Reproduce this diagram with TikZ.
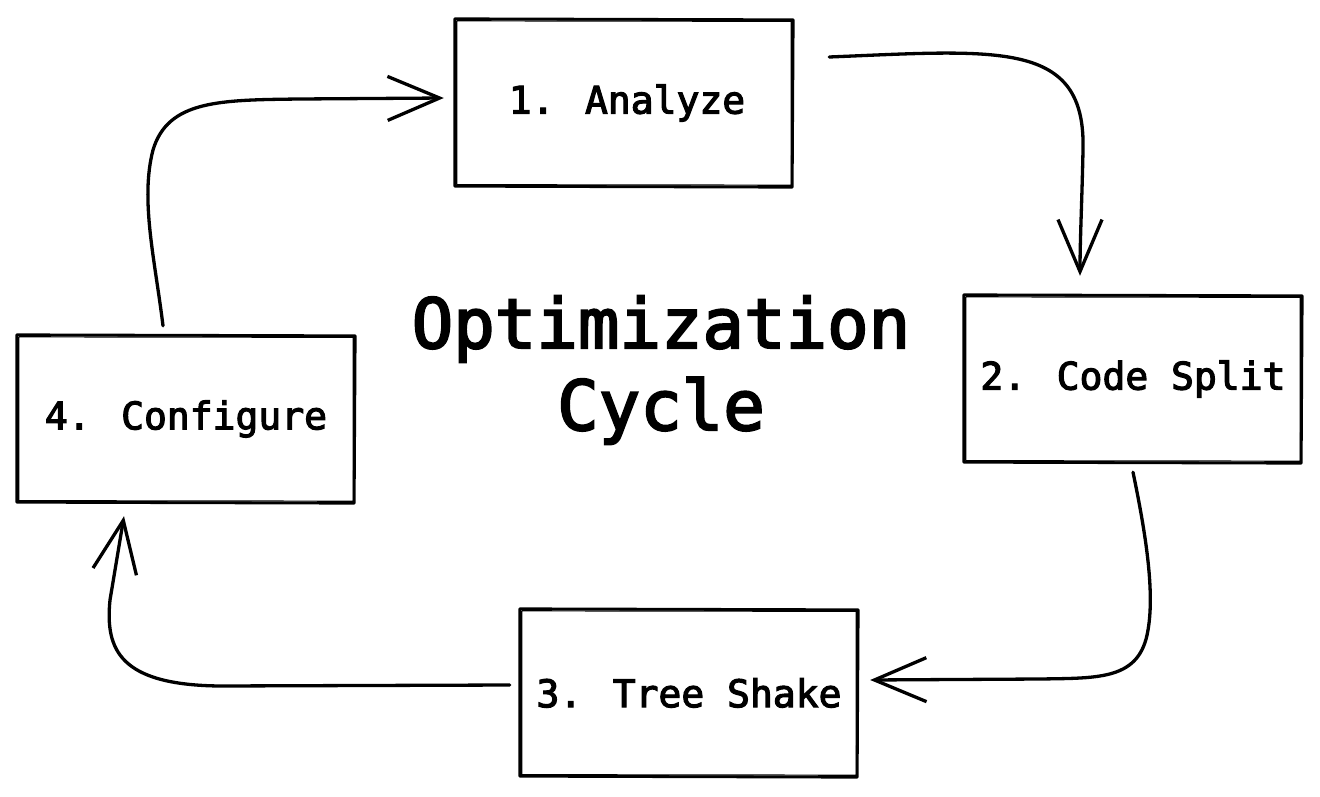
\documentclass[tikz,border=0pt]{standalone}
\usepackage{fontspec}
\newfontfamily\codefont[FakeBold=3]{DejaVu Sans Mono}
\usetikzlibrary{calc,arrows.meta}
\newcommand\roughbox[1]{%
  \draw[roughA] ($(#1.north west)+(-1,-1)$) -- ($(#1.north east)+(1,0)$) -- ($(#1.south east)+(0,1)$) -- ($(#1.south west)+(-1,0)$) -- cycle;
  \draw[roughB] ($(#1.north west)+(1,1)$) -- ($(#1.north east)+(-1,1.5)$) -- ($(#1.south east)+(-1,-1)$) -- ($(#1.south west)+(1,-1.5)$) -- cycle;
}
\begin{document}
\begin{tikzpicture}[x=1pt,y=-1pt,
  box/.style={draw=none, minimum width=336pt, minimum height=166pt, inner sep=0pt,
    font=\codefont\fontsize{38}{46}\selectfont},
  roughA/.style={line width=2.8pt, line join=round, line cap=round},
  roughB/.style={line width=1.2pt, line join=round, line cap=round},
  arr/.style={line width=3.3pt, line cap=round, line join=round,
    -{Straight Barb[length=52pt, width=44pt, line width=3.3pt]}},
  title/.style={align=center, font=\codefont\fontsize{69}{82}\selectfont}]
\useasboundingbox (0,0) rectangle (1320,797);
\node[box] (a) at (624,103) {\hspace*{6pt}1. Analyze};
\node[box] (b) at (1133,379) {2. Code Split};
\node[box] (c) at (689,693) {3. Tree Shake};
\node[box] (d) at (186,419) {4. Configure};
\roughbox{a}
\roughbox{b}
\roughbox{c}
\roughbox{d}
\node[title] (t) at (661,370) {Optimization\\Cycle};
% 1 -> 2
\draw[arr] ($(a.east)+(37,-46)$) .. controls (1000,50) and (1086,40) .. (1083,150)
  .. controls (1082,200) and (1080,240) .. ($(b.north)+(-53,-20)$);
% 2 -> 3
\draw[arr] ($(b.south)+(0,10)$) .. controls (1145,530) and (1155,590) .. (1148,630)
  .. controls (1140,680) and (1100,678) .. (1040,679) -- ($(c.east)+(13,-13)$);
% 3 -> 4
\draw[arr] ($(c.west)+(-11,-8)$) -- (220,686) .. controls (120,685) and (105,650) .. (110,600)
  -- ($(d.south)+(-62,14)$);
% 4 -> 1
\draw[arr] ($(d.north)+(-23,-10)$) .. controls (155,260) and (140,200) .. (153,150)
  .. controls (168,100) and (220,100) .. (300,99) -- ($(a.west)+(-12,-5)$);
\end{tikzpicture}
\end{document}
